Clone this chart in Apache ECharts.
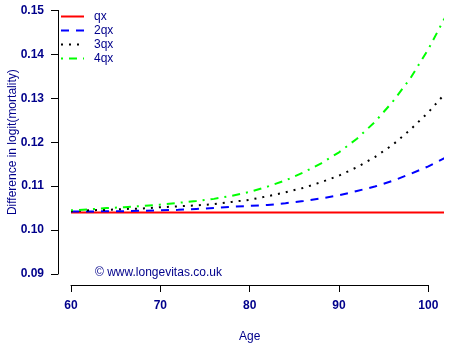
<!DOCTYPE html>
<html>
<head>
<meta charset="utf-8">
<script src="https://cdn.jsdelivr.net/npm/echarts@6/dist/echarts.min.js"></script>
<style>
  html, body { margin: 0; padding: 0; background: #ffffff; }
  #chart { width: 450px; height: 350px; }
</style>
</head>
<body>
<div id="chart"></div>
<script>
// Ages at which the differences are plotted
const ages = [60, 62, 64, 66, 68, 70, 72, 74, 76, 78, 80, 82, 84, 86, 88, 90, 92, 94, 96, 98, 100, 102];

// Difference in logit(mortality) for each multiple of qx
const qx  = [0.1040, 0.1040, 0.1040, 0.1040, 0.1040, 0.1040, 0.1040, 0.1040, 0.1040, 0.1040, 0.1040,
             0.1040, 0.1040, 0.1040, 0.1040, 0.1040, 0.1040, 0.1040, 0.1040, 0.1040, 0.1040, 0.1040];
const qx2 = [0.1042, 0.1042, 0.1043, 0.1043, 0.1044, 0.1045, 0.1046, 0.1048, 0.1050, 0.1053, 0.1055,
             0.1057, 0.1061, 0.1066, 0.1072, 0.1079, 0.1089, 0.1099, 0.1112, 0.1128, 0.1145, 0.1166];
const qx3 = [0.1043, 0.1045, 0.1046, 0.1048, 0.1049, 0.1052, 0.1054, 0.1056, 0.1059, 0.1064, 0.1069,
             0.1077, 0.1086, 0.1096, 0.1109, 0.1124, 0.1143, 0.1166, 0.1194, 0.1229, 0.1268, 0.1314];
const qx4 = [0.1045, 0.1047, 0.1050, 0.1052, 0.1055, 0.1058, 0.1062, 0.1066, 0.1071, 0.1078, 0.1087,
             0.1099, 0.1113, 0.1131, 0.1152, 0.1177, 0.1208, 0.1246, 0.1292, 0.1346, 0.1412, 0.1489];

const seriesNames = ['qx', '2qx', '3qx', '4qx'];
const seriesValues = [qx, qx2, qx3, qx4];

// Axis ticks
const xTicks = [60, 70, 80, 90, 100];
const yTicks = [0.09, 0.10, 0.11, 0.12, 0.13, 0.14, 0.15];

const FONT = '"Liberation Sans", Arial, sans-serif';
const NAVY = '#00008B';

const styles = [
  { color: '#FF0000', type: 'solid' },
  { color: '#0000FF', type: [8, 7] },
  { color: '#000000', type: [2, 6] },
  { color: '#00FF00', type: [2, 6, 8, 6] }
];

const chart = echarts.init(document.getElementById('chart'), null, { renderer: 'canvas' });

const option = {
  animation: false,
  backgroundColor: '#ffffff',
  grid: [
    // frame carrying the visible axes (60..100, 0.09..0.15)
    { left: 71, right: 21.7, top: 10.4, bottom: 76, outerBoundsMode: 'none', containLabel: false },
    // plotting region for the curves, extending past age 100
    { left: 71, right: 7.3, top: 10.4, bottom: 76, outerBoundsMode: 'none', containLabel: false }
  ],
  xAxis: [
    {
      gridIndex: 0, type: 'value',
      min: xTicks[0], max: xTicks[xTicks.length - 1], interval: 10,
      offset: 11,
      name: 'Age', nameLocation: 'middle', nameGap: 46, nameMoveOverlap: false,
      nameTextStyle: { color: NAVY, fontFamily: FONT, fontSize: 12 },
      axisLine: { show: true, lineStyle: { color: '#000', width: 1 } },
      axisTick: { show: true, length: 7, lineStyle: { color: '#000', width: 1 } },
      axisLabel: { color: NAVY, fontFamily: FONT, fontSize: 12, fontWeight: 'bold', margin: 15 },
      splitLine: { show: false }
    },
    {
      gridIndex: 1, type: 'value', min: 60, max: 101.6, show: false,
      splitLine: { show: false }
    }
  ],
  yAxis: [
    {
      gridIndex: 0, type: 'value',
      min: yTicks[0], max: yTicks[yTicks.length - 1], interval: 0.01,
      offset: 13,
      name: 'Difference in logit(mortality)', nameLocation: 'middle', nameGap: 39, nameMoveOverlap: false,
      nameTextStyle: { color: NAVY, fontFamily: FONT, fontSize: 12 },
      axisLine: { show: true, lineStyle: { color: '#000', width: 1 } },
      axisTick: { show: true, length: 7, lineStyle: { color: '#000', width: 1 } },
      axisLabel: {
        color: NAVY, fontFamily: FONT, fontSize: 12, fontWeight: 'bold', margin: 14,
        formatter: v => v.toFixed(2)
      },
      splitLine: { show: false }
    },
    {
      gridIndex: 1, type: 'value', min: 0.09, max: 0.15, show: false,
      splitLine: { show: false }
    }
  ],
  legend: {
    orient: 'vertical',
    left: 55, top: 5.5,
    padding: 5,
    itemWidth: 23, itemHeight: 14, itemGap: 2,
    itemStyle: { opacity: 0 },
    textStyle: { color: NAVY, fontFamily: FONT, fontSize: 12, padding: [0, 0, 0, 5] },
    data: seriesNames
  },
  graphic: [
    {
      type: 'text', left: 95, top: 267,
      style: { text: '\u00A9 www.longevitas.co.uk', fill: NAVY, font: '12px ' + FONT }
    }
  ],
  series: seriesNames.map((name, i) => ({
    name: name,
    type: 'line',
    xAxisIndex: 1, yAxisIndex: 1,
    data: ages.map((a, j) => [a, seriesValues[i][j]]),
    symbol: 'none',
    smooth: false,
    clip: true,
    color: styles[i].color,
    lineStyle: { color: styles[i].color, width: 2, type: styles[i].type }
  }))
};

chart.setOption(option);
</script>
</body>
</html>
